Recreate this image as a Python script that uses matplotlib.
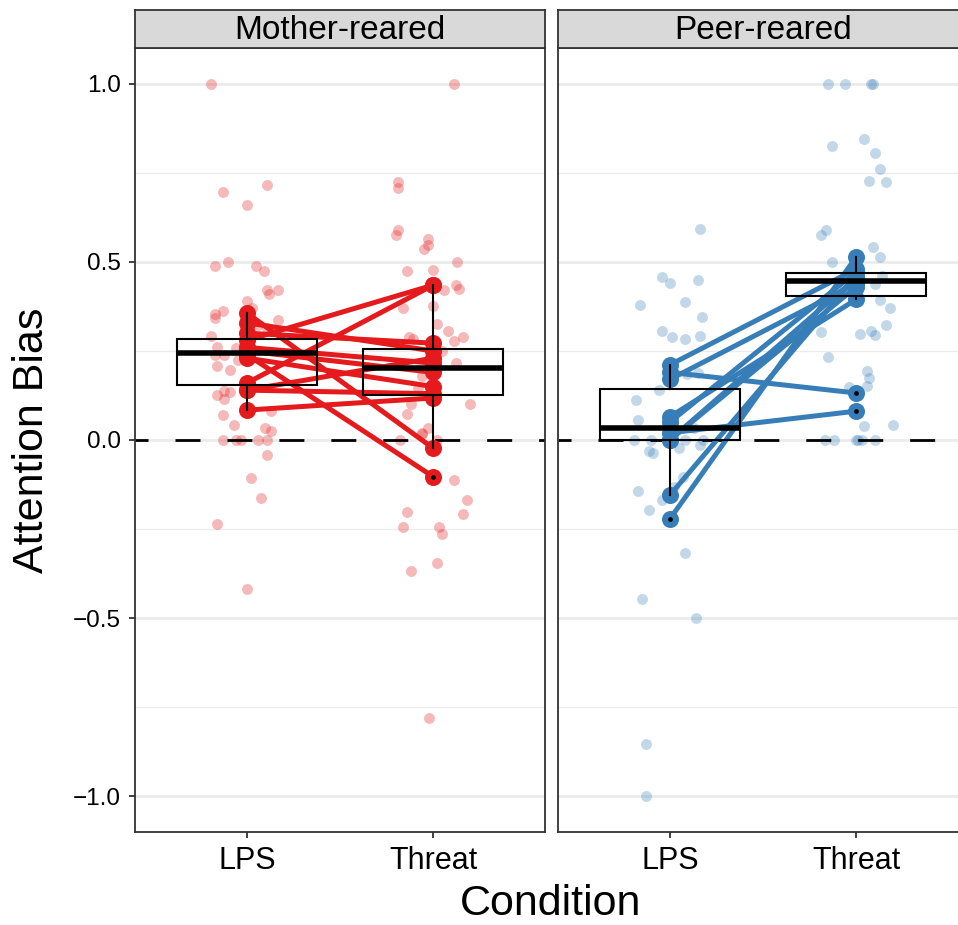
import numpy as np
import matplotlib
matplotlib.use("Agg")
import matplotlib.pyplot as plt

plt.rcParams['font.family'] = ['Liberation Sans', 'DejaVu Sans']

conditions = ["LPS", "Threat"]
panel_titles = ["Mother-reared", "Peer-reared"]
panel_colors = ["#E41A1C", "#377EB8"]
ytick_vals = [-1.0, -0.5, 0.0, 0.5, 1.0]
ytick_labels = ["\u22121.0", "\u22120.5", "0.0", "0.5", "1.0"]

# per-subject means, paired LPS -> Threat
mother_lps = [0.357, 0.329, 0.28, 0.26, 0.25, 0.24, 0.23, 0.16, 0.14, 0.14, 0.084, 0.30]
mother_threat = [-0.023, 0.25, 0.435, 0.216, 0.19, -0.103, 0.15, 0.435, 0.23, 0.13, 0.118, 0.272]
peer_lps = [-0.222, -0.155, 0.0, 0.0, 0.02, 0.05, 0.065, 0.17, 0.19, 0.211]
peer_threat = [0.514, 0.46, 0.455, 0.43, 0.081, 0.472, 0.395, 0.44, 0.132, 0.48]

# raw values with the horizontal jitter
mother_lps_y = [1.0, 0.697, 0.716, 0.66, 0.489, 0.50, 0.49, 0.475, 0.42, 0.42, 0.41, 0.39,
                0.37, 0.354, 0.362, 0.343, 0.337, 0.292, 0.323, 0.315, 0.261, 0.258, 0.239,
                0.239, 0.225, 0.208, 0.197, 0.138, 0.127, 0.135, 0.115, 0.081, 0.07, 0.042,
                0.034, 0.025, 0.0, 0.0, 0.0, 0.0, 0.0, -0.042, -0.107, -0.163, -0.236, -0.419]
mother_lps_jit = [-0.19, -0.13, 0.11, 0.0, -0.17, -0.10, 0.05, 0.09, 0.11, 0.17, 0.12, 0.0,
                  0.03, -0.17, -0.13, -0.17, 0.17, -0.19, 0.06, 0.11, -0.16, -0.06, -0.17,
                  -0.12, -0.05, -0.16, -0.09, -0.12, -0.16, -0.09, -0.12, 0.13, -0.13, -0.07,
                  0.10, 0.13, -0.13, -0.06, -0.03, 0.06, 0.11, 0.11, 0.02, 0.075, -0.16, 0.0]
mother_threat_y = [1.0, 0.725, 0.708, 0.59, 0.577, 0.565, 0.547, 0.537, 0.5, 0.475, 0.477,
                   0.436, 0.425, 0.42, 0.376, 0.371, 0.326, 0.306, 0.29, 0.279, 0.29, 0.283,
                   0.25, 0.216, 0.18, 0.146, 0.1, 0.1, 0.074, 0.034, 0.017, 0.0, 0.0, 0.02,
                   -0.112, -0.169, -0.208, -0.202, -0.244, -0.244, -0.264, -0.345, -0.368, -0.781]
mother_threat_jit = [0.11, -0.19, -0.19, -0.19, -0.2, -0.03, -0.03, -0.05, 0.13, -0.14, 0.0,
                     0.12, 0.14, 0.06, 0.0, -0.16, 0.02, 0.08, 0.16, 0.11, -0.13, -0.11,
                     0.05, 0.12, -0.06, -0.08, 0.2, -0.12, -0.14, -0.03, -0.06, -0.18, 0.02, -0.06,
                     0.11, 0.18, 0.16, -0.14, -0.16, 0.03, 0.05, 0.02, -0.12, -0.02]
peer_lps_y = [0.593, 0.458, 0.441, 0.449, 0.379, 0.388, 0.346, 0.306, 0.29, 0.284, 0.292,
              0.185, 0.188, 0.14, 0.112, 0.056, 0.034, 0.0, 0.0, 0.0, 0.0, -0.031, -0.037,
              -0.023, -0.014, -0.104, -0.131, -0.143, -0.169, -0.197, -0.317, -0.447, -0.5,
              -0.854, -1.0]
peer_lps_jit = [0.16, -0.04, 0.0, 0.15, -0.16, 0.08, 0.17, -0.04, 0.01, 0.08, 0.16,
                0.09, 0.15, -0.06, -0.18, -0.17, 0.13, -0.19, -0.1, 0.08, 0.18, -0.11, -0.09,
                0.05, 0.16, 0.07, 0.02, -0.17, -0.04, -0.11, 0.08, -0.15, 0.14,
                -0.13, -0.13]
peer_threat_y = [1.0, 1.0, 1.0, 1.0, 0.846, 0.826, 0.806, 0.761, 0.727, 0.725, 0.59, 0.576,
                 0.542, 0.514, 0.5, 0.46, 0.438, 0.393, 0.371, 0.323, 0.298, 0.306, 0.295,
                 0.303, 0.233, 0.194, 0.174, 0.152, 0.149, 0.039, 0.042,
                 0.0, 0.0, 0.0, 0.0, 0.0, 0.0]
peer_threat_jit = [-0.15, -0.06, 0.08, 0.09, 0.04, -0.13, 0.1, 0.13, 0.07, 0.16, -0.16, -0.19,
                   0.09, 0.13, -0.13, 0.14, 0.1, 0.13, 0.18, 0.16, 0.02, 0.08, 0.1,
                   -0.19, -0.15, 0.06, 0.07, 0.06, -0.04, 0.04, 0.2,
                   -0.17, -0.12, 0.0, 0.01, 0.03, 0.1]

panels = [
    (mother_lps, mother_threat,
     [(mother_lps_jit, mother_lps_y), (mother_threat_jit, mother_threat_y)]),
    (peer_lps, peer_threat,
     [(peer_lps_jit, peer_lps_y), (peer_threat_jit, peer_threat_y)]),
]

W, H = 958, 925
fig = plt.figure(figsize=(W / 100, H / 100), dpi=100)

border = "#333333"
ax_left = [135, 558]
ax_w = 410
ax_top, ax_bot = 48, 832
strip_top = 10


def draw_panel(ax, lps, threat, raw, color):
    for i, (jit, ys) in enumerate(raw):
        ax.scatter(i + 1 + np.array(jit), ys, s=62, color=color, alpha=0.3,
                   linewidths=0, zorder=2)
    for a, b in zip(lps, threat):
        ax.plot([1, 2], [a, b], color=color, lw=3.6, zorder=3, solid_capstyle="round")
    ax.scatter(np.ones(len(lps)), lps, s=150, color=color, linewidths=0, zorder=4)
    ax.scatter(np.full(len(threat), 2), threat, s=150, color=color, linewidths=0, zorder=4)

    ax.boxplot([lps, threat], positions=[1, 2], widths=0.75, showcaps=False,
               patch_artist=True, zorder=5,
               boxprops=dict(facecolor="none", edgecolor="black", linewidth=1.5),
               medianprops=dict(color="black", linewidth=4),
               whiskerprops=dict(color="black", linewidth=1.5),
               flierprops=dict(marker="o", markersize=2.4, markerfacecolor="black",
                               markeredgecolor="black"))

    ax.axhline(0, color="black", lw=2, linestyle=(4.3, (9, 9.7)), zorder=2.5)

    ax.set_xlim(0.4, 2.6)
    ax.set_ylim(-1.101, 1.101)
    ax.set_yticks(ytick_vals)
    ax.set_yticks([-0.75, -0.25, 0.25, 0.75], minor=True)
    ax.grid(axis="y", which="major", color="#EBEBEB", lw=2)
    ax.grid(axis="y", which="minor", color="#EBEBEB", lw=0.9)
    ax.set_axisbelow(True)
    ax.set_xticks([1, 2])
    ax.set_xticklabels(conditions, fontsize=22)
    for sp in ax.spines.values():
        sp.set_color(border)
        sp.set_linewidth(1.3)
    ax.tick_params(axis="both", which="major", length=4, width=1.3, color=border,
                   labelcolor="black")
    ax.tick_params(axis="x", pad=6)
    ax.tick_params(axis="y", which="minor", length=0)


for k, (lps, threat, raw) in enumerate(panels):
    rect = [ax_left[k] / W, (H - ax_bot) / H, ax_w / W, (ax_bot - ax_top) / H]
    ax = fig.add_axes(rect)
    draw_panel(ax, lps, threat, raw, panel_colors[k])
    if k == 0:
        ax.set_yticklabels(ytick_labels, fontsize=17.5)
        ax.tick_params(axis="y", pad=6)
    else:
        ax.tick_params(axis="y", which="both", length=0, labelleft=False)

    sax = fig.add_axes([ax_left[k] / W, (H - ax_top) / H, ax_w / W,
                        (ax_top - strip_top) / H])
    sax.set_facecolor("#D9D9D9")
    sax.set_xticks([])
    sax.set_yticks([])
    for sp in sax.spines.values():
        sp.set_color(border)
        sp.set_linewidth(1.3)
    sax.text(0.5, 0.45, panel_titles[k], ha="center", va="center", fontsize=24,
             transform=sax.transAxes)

fig.text(32 / W, 1 - 440 / H, "Attention Bias", rotation=90, ha="center", va="center",
         fontsize=31)
fig.text(551 / W, 1 - 915 / H, "Condition", ha="center", va="baseline", fontsize=31)

fig.savefig("out.png", dpi=100, facecolor="white")
